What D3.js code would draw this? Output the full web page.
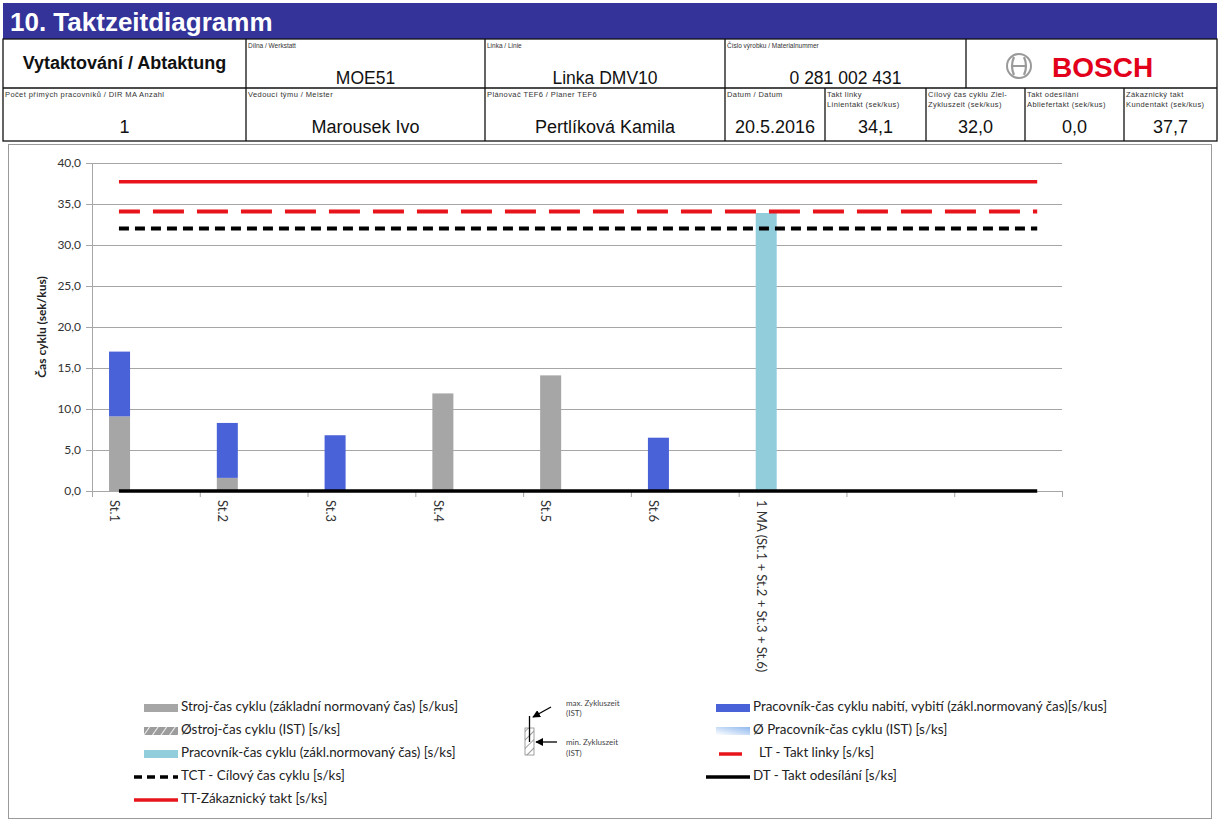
<!DOCTYPE html>
<html>
<head>
<meta charset="utf-8">
<script src="https://cdn.jsdelivr.net/npm/d3@7"></script>
<style>
  body { margin: 0; background: #fff; }
  svg { display: block; }
</style>
</head>
<body>
<svg id="chart"></svg>
<script>
// header texts
const title = '10.  Taktzeitdiagramm';
const row1Labels = ['', 'Dílna / Werkstatt', 'Linka / Linie', 'Číslo výrobku / Materialnummer'];
const row1Values = ['Vytaktování / Abtaktung', 'MOE51', 'Linka DMV10', '0 281 002 431'];
const row2Labels = [
    ['Počet přímých pracovníků / DIR MA Anzahl'],
    ['Vedoucí týmu / Meister'],
    ['Plánovač TEF6 / Planer TEF6'],
    ['Datum / Datum'],
    ['Takt linky', 'Linientakt  (sek/kus)'],
    ['Cílový čas cyklu  Ziel-', 'Zykluszeit (sek/kus)'],
    ['Takt odesílání', 'Abliefertakt (sek/kus)'],
    ['Zákaznický takt', 'Kundentakt (sek/kus)']
];

// chart data
const categories = ['St.1', 'St.2', 'St.3', 'St.4', 'St.5', 'St.6', '1 MA (St.1 + St.2 + St.3 + St.6)', '', ''];
const machineTime = [9.1, 1.6, 0, 11.9, 14.1, 0, 0, 0, 0];        // Stroj-čas cyklu
const loadTime = [7.9, 6.7, 6.8, 0, 0, 6.5, 0, 0, 0];             // Pracovník nabití, vybití
const workerTime = [0, 0, 0, 0, 0, 0, 33.9, 0, 0];                // Pracovník-čas cyklu
const yTicks = [0, 5, 10, 15, 20, 25, 30, 35, 40];
const customerTakt = 37.7;   // TT
const lineTakt = 34.1;       // LT
const targetCycle = 32.0;    // TCT
const dispatchTakt = 0.0;    // DT
const headerRow2Values = ['1', 'Marousek Ivo', 'Pertlíková Kamila', '20.5.2016',
    lineTakt, targetCycle, dispatchTakt, customerTakt];

const legendLeft = [
    { type: 'rect', fill: '#a6a6a6', text: 'Stroj-čas cyklu (základní normovaný čas) [s/kus]' },
    { type: 'rect', fill: 'url(#hatchGray)', text: 'Østroj-čas cyklu (IST) [s/ks]' },
    { type: 'rect', fill: '#92cddc', text: 'Pracovník-čas cyklu (zákl.normovaný čas) [s/ks]' },
    { type: 'line', stroke: '#000', dash: '8,5', text: 'TCT - Cílový čas cyklu  [s/ks]' },
    { type: 'line', stroke: '#e8141b', dash: null, text: 'TT-Zákaznický takt [s/ks]' }
];
const legendRight = [
    { type: 'rect', fill: '#4a62d8', text: 'Pracovník-čas cyklu nabití, vybití (zákl.normovaný čas)[s/kus]' },
    { type: 'rect', fill: 'url(#softBlue)', text: 'Ø Pracovník-čas cyklu (IST) [s/ks]' },
    { type: 'line', stroke: '#e8141b', dash: null, text: 'LT - Takt linky [s/ks]', short: true },
    { type: 'line', stroke: '#000', dash: null, text: 'DT - Takt odesílání [s/ks]' }
];

const fmt = d => (+d).toFixed(1).replace('.', ',');

const W = 1219, H = 825;
const svg = d3.select('#chart').attr('width', W).attr('height', H);
const defs = svg.append('defs');

const hg = defs.append('pattern').attr('id', 'hatchGray')
    .attr('patternUnits', 'userSpaceOnUse').attr('width', 7).attr('height', 7)
    .attr('patternTransform', 'rotate(35)');
hg.append('rect').attr('width', 7).attr('height', 7).attr('fill', '#9c9c9c');
hg.append('line').attr('x1', 0).attr('y1', 0).attr('x2', 0).attr('y2', 7)
    .attr('stroke', '#f2f2f2').attr('stroke-width', 2);

const hw = defs.append('pattern').attr('id', 'hatchWhite')
    .attr('patternUnits', 'userSpaceOnUse').attr('width', 6).attr('height', 6)
    .attr('patternTransform', 'rotate(45)');
hw.append('rect').attr('width', 6).attr('height', 6).attr('fill', '#fff');
hw.append('line').attr('x1', 0).attr('y1', 0).attr('x2', 0).attr('y2', 6)
    .attr('stroke', '#888').attr('stroke-width', 1.6);

const sb = defs.append('linearGradient').attr('id', 'softBlue')
    .attr('x1', 0).attr('y1', 1).attr('x2', 1).attr('y2', 0);
sb.append('stop').attr('offset', '0%').attr('stop-color', '#ffffff');
sb.append('stop').attr('offset', '100%').attr('stop-color', '#8fb8ee');

defs.append('marker').attr('id', 'arrow').attr('viewBox', '0 0 10 10')
    .attr('refX', 9).attr('refY', 5).attr('markerWidth', 6).attr('markerHeight', 6)
    .attr('orient', 'auto')
    .append('path').attr('d', 'M0,0 L10,5 L0,10 z').attr('fill', '#000');

// ---------- header ----------
const hdrFont = '"Liberation Sans", Arial, sans-serif';
svg.append('rect').attr('x', 3).attr('y', 3).attr('width', 1214).attr('height', 36)
    .attr('fill', '#333399');
svg.append('text').attr('x', 10).attr('y', 31)
    .attr('font-family', hdrFont).attr('font-weight', 'bold').attr('font-size', 26)
    .attr('fill', '#fff').text(title);

const row1 = { y0: 39, y1: 88, xs: [3, 246, 485, 725, 966, 1217] };
const row2 = { y0: 88, y1: 141, xs: [3, 246, 485, 725, 825, 926, 1025, 1124, 1217] };
const grid = svg.append('g').attr('stroke', '#111').attr('stroke-width', 1.3).attr('fill', 'none');
grid.append('rect').attr('x', 3).attr('y', row1.y0).attr('width', 1214).attr('height', row2.y1 - row1.y0);
grid.append('line').attr('x1', 3).attr('x2', 1217).attr('y1', row2.y0).attr('y2', row2.y0);
row1.xs.slice(1, -1).forEach(x => grid.append('line').attr('x1', x).attr('x2', x).attr('y1', row1.y0).attr('y2', row1.y1));
row2.xs.slice(1, -1).forEach(x => grid.append('line').attr('x1', x).attr('x2', x).attr('y1', row2.y0).attr('y2', row2.y1));

row1Labels.forEach((t, i) => {
    svg.append('text').attr('x', row1.xs[i] + 2).attr('y', row1.y0 + 9)
        .attr('font-family', hdrFont).attr('font-size', 6.5).attr('fill', '#333').text(t);
});
row1Values.forEach((t, i) => {
    const cx = (row1.xs[i] + row1.xs[i + 1]) / 2;
    svg.append('text').attr('x', cx).attr('y', i === 0 ? 69 : 84)
        .attr('text-anchor', 'middle').attr('font-family', hdrFont)
        .attr('font-weight', i === 0 ? 'bold' : 'normal')
        .attr('font-size', i === 0 ? 18 : 17.5).attr('fill', '#111').text(t);
});
row2Labels.forEach((lines, i) => {
    lines.forEach((t, k) => {
        svg.append('text').attr('x', row2.xs[i] + 2).attr('y', row2.y0 + 9 + k * 10)
            .attr('font-family', hdrFont).attr('font-size', 7.5).attr('letter-spacing', 0.4)
            .attr('fill', '#333').text(t);
    });
});
headerRow2Values.forEach((v, i) => {
    const cx = (row2.xs[i] + row2.xs[i + 1]) / 2;
    svg.append('text').attr('x', cx).attr('y', 133)
        .attr('text-anchor', 'middle').attr('font-family', hdrFont)
        .attr('font-size', 18).attr('fill', '#111')
        .text(typeof v === 'number' ? fmt(v) : v);
});

// Bosch logo
const logo = svg.append('g').attr('transform', 'translate(1019,66)');
logo.append('circle').attr('r', 12).attr('fill', 'none').attr('stroke', '#9a9a9a').attr('stroke-width', 2);
logo.append('path').attr('d', 'M-5,-9 Q-9,0 -5,9 M5,-9 Q9,0 5,9 M-6,0 L6,0')
    .attr('fill', 'none').attr('stroke', '#9a9a9a').attr('stroke-width', 2.2);
svg.append('text').attr('x', 1052).attr('y', 77)
    .attr('font-family', hdrFont).attr('font-weight', 'bold').attr('font-size', 28)
    .attr('fill', '#e2001a').text('BOSCH');

// ---------- chart frame ----------
svg.append('rect').attr('x', 8.5).attr('y', 144.5).attr('width', 1203).attr('height', 674)
    .attr('fill', '#fff').attr('stroke', '#9a9a9a');

const chartFont = 'Lato, "Open Sans", sans-serif';
const plot = { left: 92, right: 1062, top: 163, bottom: 491 };

const x = d3.scaleBand().domain(d3.range(categories.length))
    .range([plot.left, plot.right]).paddingInner(0).paddingOuter(0);
const xi = d3.scaleLinear().domain([0, categories.length]).range([plot.left, plot.right]);
const y = d3.scaleLinear().domain([0, 40]).range([plot.bottom, plot.top]);
const bw = x.bandwidth();
const barX = i => x(i) + bw * 0.158;
const barW = bw * 0.195;

// gridlines
svg.append('g').attr('transform', `translate(${plot.left},0)`)
    .call(d3.axisLeft(y).tickValues(yTicks.slice(1)).tickSize(-(plot.right - plot.left)).tickFormat(''))
    .call(g => g.select('.domain').remove())
    .call(g => g.selectAll('line').attr('stroke', '#a6a6a6').attr('stroke-width', 1.2));

// y axis
svg.append('g').attr('transform', `translate(${plot.left},0)`)
    .call(d3.axisLeft(y).tickValues(yTicks).tickSize(6).tickPadding(5).tickFormat(fmt))
    .call(g => g.select('.domain').attr('stroke', '#a6a6a6'))
    .call(g => g.selectAll('line').attr('stroke', '#a6a6a6'))
    .call(g => g.selectAll('text').attr('font-family', chartFont).attr('font-size', 12).attr('fill', '#333'));

svg.append('text')
    .attr('transform', `translate(46,${(plot.top + plot.bottom) / 2}) rotate(-90)`)
    .attr('text-anchor', 'middle').attr('font-family', chartFont)
    .attr('font-weight', 'bold').attr('font-size', 12).attr('fill', '#222')
    .text('Čas cyklu (sek/kus)');

// x axis ticks at category boundaries
svg.append('g').attr('transform', `translate(0,${plot.bottom})`)
    .call(d3.axisBottom(xi).tickValues(d3.range(categories.length + 1)).tickSize(6).tickFormat(''))
    .call(g => g.select('.domain').attr('stroke', '#a6a6a6'))
    .call(g => g.selectAll('line').attr('stroke', '#a6a6a6'));

// bars
const idx = d3.range(categories.length);
svg.append('g').selectAll('rect').data(idx.filter(i => machineTime[i] > 0)).join('rect')
    .attr('x', barX).attr('width', barW)
    .attr('y', i => y(machineTime[i])).attr('height', i => y(0) - y(machineTime[i]))
    .attr('fill', '#a6a6a6');
svg.append('g').selectAll('rect').data(idx.filter(i => loadTime[i] > 0)).join('rect')
    .attr('x', barX).attr('width', barW)
    .attr('y', i => y(machineTime[i] + loadTime[i])).attr('height', i => y(machineTime[i]) - y(machineTime[i] + loadTime[i]))
    .attr('fill', '#4a62d8');
svg.append('g').selectAll('rect').data(idx.filter(i => workerTime[i] > 0)).join('rect')
    .attr('x', barX).attr('width', barW)
    .attr('y', i => y(workerTime[i])).attr('height', i => y(0) - y(workerTime[i]))
    .attr('fill', '#92cddc');

// category labels
svg.append('g').selectAll('text').data(idx).join('text')
    .attr('transform', i => `translate(${barX(i) + barW / 2 - 6},${plot.bottom + 9}) rotate(90)`)
    .attr('dominant-baseline', 'middle')
    .attr('font-family', chartFont).attr('font-size', 13).attr('fill', '#333')
    .text(i => categories[i]);

// reference lines
const spanFrom = xi(0.25), spanTo = xi(8.77);
const refLines = [
    { v: customerTakt, stroke: '#e8141b', width: 3.5, dash: null, offset: 0 },
    { v: lineTakt, stroke: '#e8141b', width: 4, dash: '31,13', offset: 10 },
    { v: targetCycle, stroke: '#000', width: 4, dash: '10,6', offset: 0 },
    { v: dispatchTakt, stroke: '#000', width: 3.5, dash: null, offset: 0 }
];
svg.append('g').selectAll('line').data(refLines).join('line')
    .attr('x1', spanFrom).attr('x2', spanTo)
    .attr('y1', d => y(d.v)).attr('y2', d => y(d.v))
    .attr('stroke', d => d.stroke).attr('stroke-width', d => d.width)
    .attr('stroke-dasharray', d => d.dash).attr('stroke-dashoffset', d => d.offset);

// ---------- legend ----------
const legY = [708, 731, 754, 777, 800];
function legendColumn(items, x0, x1, tx) {
    items.forEach((it, k) => {
        const yy = legY[k];
        if (it.type === 'rect') {
            svg.append('rect').attr('x', x0).attr('y', yy - 4).attr('width', x1 - x0).attr('height', 8)
                .attr('fill', it.fill);
        } else {
            svg.append('line').attr('x1', x0 - (it.short ? -3 : 10)).attr('x2', it.short ? x1 - 8 : x1)
                .attr('y1', yy).attr('y2', yy).attr('stroke', it.stroke).attr('stroke-width', 3.5)
                .attr('stroke-dasharray', it.dash);
        }
        svg.append('text').attr('x', tx + (it.short ? 6 : 0)).attr('y', yy).attr('dominant-baseline', 'middle')
            .attr('font-family', chartFont).attr('font-size', 13.4).attr('fill', '#222').text(it.text);
    });
}
legendColumn(legendLeft, 144, 178, 181);
legendColumn(legendRight, 716, 750, 753);

// min / max cycle time symbol
const sym = svg.append('g');
sym.append('rect').attr('x', 525).attr('y', 728).attr('width', 9).attr('height', 27)
    .attr('fill', 'url(#hatchWhite)').attr('stroke', '#888').attr('stroke-width', 0.8);
sym.append('line').attr('x1', 529.5).attr('x2', 529.5).attr('y1', 716).attr('y2', 742)
    .attr('stroke', '#000').attr('stroke-width', 1.3);
sym.append('line').attr('x1', 551).attr('y1', 707).attr('x2', 533).attr('y2', 717)
    .attr('stroke', '#000').attr('stroke-width', 1.3).attr('marker-end', 'url(#arrow)');
sym.append('line').attr('x1', 557).attr('y1', 742).attr('x2', 536).attr('y2', 742)
    .attr('stroke', '#000').attr('stroke-width', 1.3).attr('marker-end', 'url(#arrow)');
[['max. Zykluszeit', 706], ['(IST)', 716], ['min. Zykluszeit', 745], ['(IST)', 756]].forEach(([t, yy]) => {
    sym.append('text').attr('x', 566).attr('y', yy).attr('font-family', chartFont)
        .attr('font-size', 8).attr('fill', '#444').text(t);
});
</script>
</body>
</html>
